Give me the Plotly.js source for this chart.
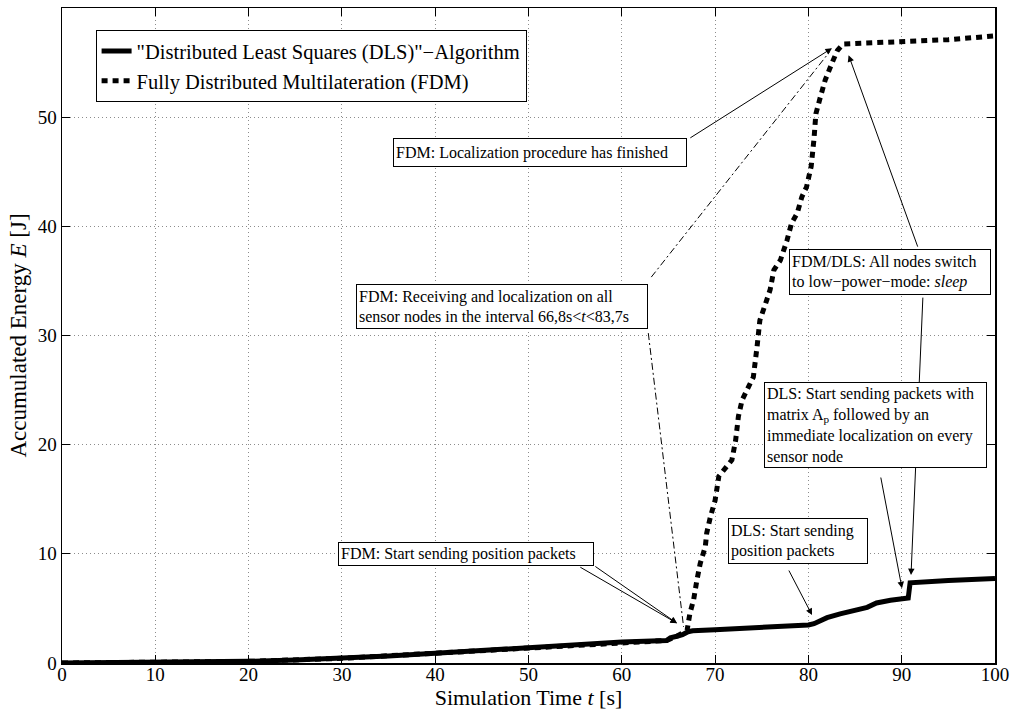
<!DOCTYPE html>
<html>
<head>
<meta charset="utf-8">
<script src="https://cdn.plot.ly/plotly-3.0.1.min.js"></script>
<style>html,body{margin:0;padding:0;background:#fff;}#chart{width:1013px;height:710px;}</style>
</head>
<body>
<div id="chart"></div>
<script>
// ---- data ----
const dlsName = '"Distributed Least Squares (DLS)"\u2212Algorithm';
const fdmName = 'Fully Distributed Multilateration (FDM)';

const dlsTime = [0, 5, 10, 15, 20, 25, 30, 35, 40, 45, 50, 55, 60, 64.8, 65.2, 65.9, 66.5, 67.1, 67.6, 70, 75, 80, 80.6, 81.2, 82, 83.4, 84.8, 86.3, 87.3, 88.8, 90.7, 90.9, 95, 100];
const dlsEnergy = [0, 0.02, 0.05, 0.09, 0.15, 0.28, 0.43, 0.65, 0.89, 1.15, 1.43, 1.68, 1.92, 2.06, 2.3, 2.45, 2.6, 2.87, 2.95, 3.05, 3.25, 3.48, 3.6, 3.85, 4.15, 4.5, 4.8, 5.1, 5.5, 5.75, 5.95, 7.35, 7.55, 7.75];

const fdmTime = [0, 10, 20, 30, 40, 50, 60, 64.8, 65.9, 66.8, 67.0, 67.3, 67.7, 68.05, 68.4, 68.95, 69.1, 69.5, 70.0, 70.4, 71.3, 71.8, 72.2, 72.5, 72.9, 73.4, 74.1, 74.5, 74.8, 75.4, 75.9, 76.3, 77.0, 77.7, 78.2, 78.8, 79.3, 79.8, 80.3, 80.6, 80.8, 81.3, 81.8, 82.5, 83.1, 83.7, 86, 90.6, 95, 100];
const fdmEnergy = [0, 0.05, 0.15, 0.43, 0.89, 1.43, 1.92, 2.06, 2.45, 2.8, 3.0, 4.55, 5.8, 7.6, 9.1, 10.65, 11.9, 13.4, 14.9, 17.1, 18.0, 18.6, 20.4, 22.6, 24.1, 25.0, 26.2, 29.0, 31.4, 32.9, 34.2, 36.0, 36.9, 38.7, 40.3, 41.2, 42.7, 43.6, 45.5, 48.0, 50.3, 51.9, 53.4, 54.9, 56.1, 56.7, 56.8, 56.9, 57.1, 57.45];

const xTicks = [0, 10, 20, 30, 40, 50, 60, 70, 80, 90, 100];
const yTicks = [0, 10, 20, 30, 40, 50, 60];

const xTitle = 'Simulation Time <i>t</i> [s]';
const yTitle = 'Accumulated Energy <i>E</i> [J]';

const noteFinished = 'FDM: Localization procedure has finished';
const noteReceiving = 'FDM: Receiving and localization on all<br>sensor nodes in the interval 66,8s&lt;<i>t</i>&lt;83,7s';
const noteFdmStart = 'FDM: Start sending position packets';
const noteDlsStart = 'DLS: Start sending<br>position packets';
const noteDlsMatrix = 'DLS: Start sending packets with<br>matrix A<sub>p</sub> followed by an<br>immediate localization on every<br>sensor node';
const noteSleep = 'FDM/DLS: All nodes switch<br>to low\u2212power\u2212mode: <i>sleep</i>';

// ---- figure ----
const FONT = 'Liberation Serif';

const traces = [
  {x: fdmTime, y: fdmEnergy, name: fdmName, type: 'scatter', mode: 'lines', legendrank: 2,
   line: {color: '#000', width: 5, dash: '6px,5px'}},
  {x: dlsTime, y: dlsEnergy, name: dlsName, type: 'scatter', mode: 'lines', legendrank: 1,
   line: {color: '#000', width: 5}}
];

function arrow(tx, ty, hx, hy) {
  return {x: hx, y: hy, ax: tx, ay: ty, xref: 'x', yref: 'y', axref: 'x', ayref: 'y',
          text: ' ', showarrow: true, arrowhead: 2, arrowsize: 1.3, arrowwidth: 1,
          arrowcolor: '#000', standoff: 0, startstandoff: 0,
          font: {family: FONT, size: 2, color: '#000'}};
}
function box(cx, cy, w, h, text, align) {
  return {x: cx, y: cy, xref: 'x', yref: 'y', text: text, showarrow: false,
          width: w, height: h, align: align || 'left', valign: 'middle',
          bgcolor: '#fff', bordercolor: '#000', borderwidth: 1, borderpad: 2,
          font: {family: FONT, size: 16, color: '#000'}};
}

const annotations = [
  arrow(67.13, 47.99, 82.53, 56.32),
  arrow(55.34, 8.88, 65.92, 3.64),
  arrow(56.95, 8.97, 65.92, 3.64),
  arrow(77.77, 8.70, 80.39, 4.40),
  arrow(87.71, 17.22, 90.03, 6.84),
  arrow(91.81, 37.91, 84.31, 55.68),
  arrow(92.28, 33.70, 91.0, 8.06),
  box(51.26, 46.76, 288, 23, noteFinished),
  box(47.19, 32.65, 286, 39, noteReceiving),
  box(43.33, 9.98, 250, 18, noteFdmStart),
  box(78.92, 11.17, 134, 40, noteDlsStart),
  box(87.22, 21.81, 217, 80, noteDlsMatrix),
  box(88.78, 35.8, 196, 40, noteSleep)
];

const shapes = [
  {type: 'line', xref: 'x', yref: 'y', x0: 63.16, y0: 35.35, x1: 82.24, y1: 55.95,
   line: {color: '#000', width: 1, dash: '7px,3px,2px,3px'}, layer: 'above'},
  {type: 'line', xref: 'x', yref: 'y', x0: 62.84, y0: 30.22, x1: 66.62, y1: 3.32,
   line: {color: '#000', width: 1, dash: '7px,3px,2px,3px'}, layer: 'above'}
];

const axisCommon = {
  ticks: 'inside', ticklen: 8, tickwidth: 1, tickcolor: '#000',
  showline: true, linecolor: '#000', linewidth: 1.5, mirror: 'ticks',
  showgrid: true, gridcolor: '#8c8c8c', griddash: '1px,3px', gridwidth: 1,
  zeroline: false, fixedrange: true,
  tickfont: {family: FONT, size: 19, color: '#000'}
};

const layout = {
  width: 1013, height: 710,
  margin: {l: 62, r: 18, t: 8, b: 47},
  paper_bgcolor: '#fff', plot_bgcolor: '#fff',
  font: {family: FONT, color: '#000'},
  showlegend: true,
  xaxis: Object.assign({}, axisCommon, {range: [0, 100], tickvals: xTicks, ticktext: xTicks.map(String),
    ticklabelstandoff: -6,
    title: {text: xTitle, font: {family: FONT, size: 22, color: '#000'}, standoff: 0}}),
  yaxis: Object.assign({}, axisCommon, {range: [0, 60], tickvals: yTicks, ticktext: yTicks.map(String),
    title: {text: yTitle, font: {family: FONT, size: 23, color: '#000'}, standoff: 4}}),
  legend: {x: 0.036, y: 0.966, xanchor: 'left', yanchor: 'top', bgcolor: '#fff',
    bordercolor: '#000', borderwidth: 1, font: {family: FONT, size: 20.5, color: '#000'},
    itemwidth: 30, tracegroupgap: 0, itemclick: false, itemdoubleclick: false},
  annotations: annotations,
  shapes: shapes
};

Plotly.newPlot('chart', traces, layout, {displayModeBar: false, staticPlot: true});
</script>
</body>
</html>
